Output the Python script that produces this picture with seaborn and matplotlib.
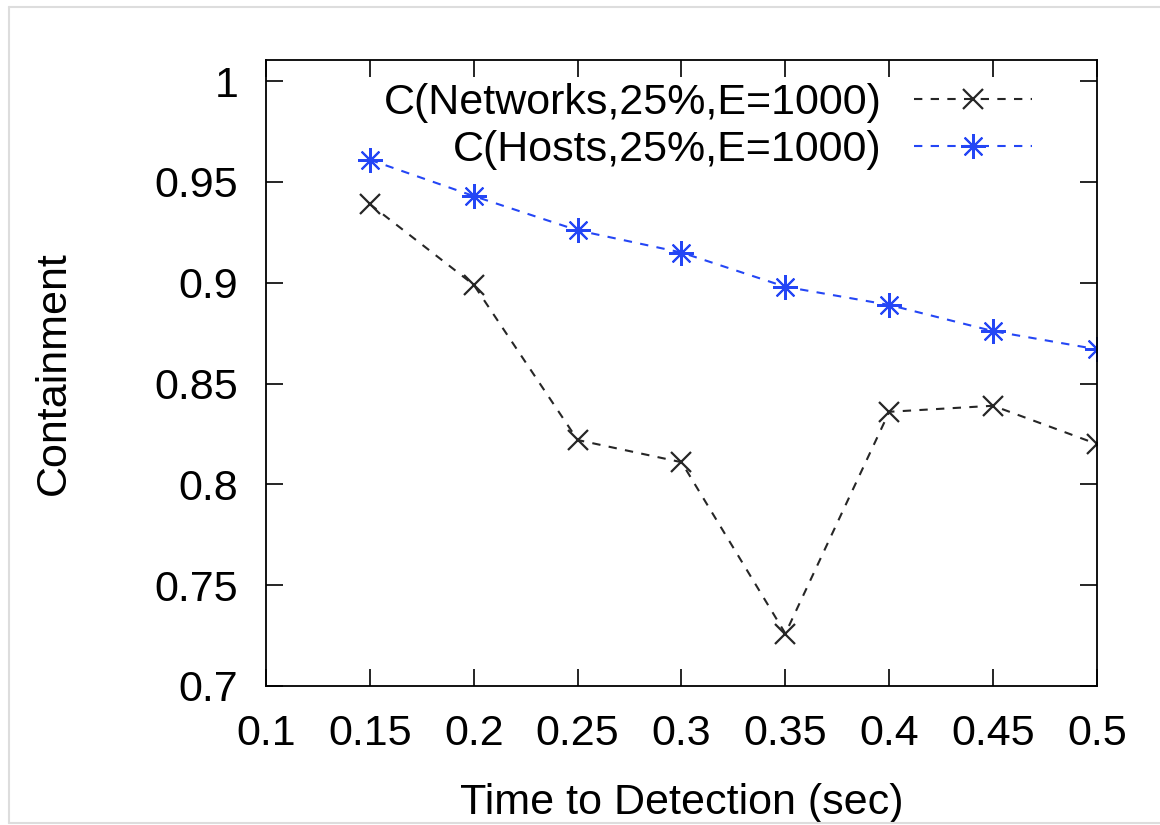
import numpy as np
import pandas as pd
import matplotlib
matplotlib.use("Agg")
import matplotlib.pyplot as plt
from matplotlib.lines import Line2D
import seaborn as sns

# ── data ─────────────────────────────────────────────────────────────────────
detect_time = [0.15, 0.20, 0.25, 0.30, 0.35, 0.40, 0.45, 0.50]
networks    = [0.939, 0.899, 0.822, 0.811, 0.726, 0.836, 0.839, 0.820]
hosts       = [0.961, 0.943, 0.926, 0.915, 0.898, 0.889, 0.876, 0.867]

label_net   = "C(Networks,25%,E=1000)"
label_host  = "C(Hosts,25%,E=1000)"
x_ticks     = [0.1, 0.15, 0.2, 0.25, 0.3, 0.35, 0.4, 0.45, 0.5]
x_ticklabs  = ["0.1", "0.15", "0.2", "0.25", "0.3", "0.35", "0.4", "0.45", "0.5"]
y_ticks     = [0.7, 0.75, 0.8, 0.85, 0.9, 0.95, 1.0]
y_ticklabs  = ["0.7", "0.75", "0.8", "0.85", "0.9", "0.95", "1"]

df = pd.DataFrame({"t": detect_time, "net": networks, "host": hosts})

sns.set_style("white")
plt.rcParams["font.family"] = ["Liberation Sans", "DejaVu Sans"]
plt.rcParams["text.color"] = "black"
plt.rcParams["axes.labelcolor"] = "black"
plt.rcParams["xtick.color"] = "black"
plt.rcParams["ytick.color"] = "black"

FS = 31
BLACK = "#262626"
BLUE = "#2446f5"

fig = plt.figure(figsize=(11.6, 8.25), dpi=100)
ax = fig.add_axes([0.2293, 0.1685, 0.9457 - 0.2293, 0.9273 - 0.1685])

sns.lineplot(data=df, x="t", y="net", ax=ax, color=BLACK, lw=1.5,
             marker="x", markersize=15, mew=1.6, mec=BLACK,
             dashes=False, linestyle=(0, (4, 4)), label=label_net)
sns.lineplot(data=df, x="t", y="host", ax=ax, color=BLUE, lw=1.5,
             marker=(8, 2, 0), markersize=18, mew=1.5, mec=BLUE,
             dashes=False, linestyle=(0, (4, 4)), label=label_host)

ax.set_xlim(0.1, 0.5)
ax.set_ylim(0.7, 1.0105)
ax.set_xticks(x_ticks)
ax.set_xticklabels(x_ticklabs, fontsize=FS)
ax.set_yticks(y_ticks)
ax.set_yticklabels(y_ticklabs, fontsize=FS)
ax.tick_params(direction="in", length=12, width=1.2, top=True, right=True,
               bottom=True, left=True, colors="black")
ax.tick_params(axis="x", pad=20)
ax.tick_params(axis="y", pad=20)
for s in ax.spines.values():
    s.set_visible(True)
    s.set_color("black")
    s.set_linewidth(1.3)

ax.set_xlabel("Time to Detection (sec)", fontsize=FS, labelpad=21)
ax.set_ylabel("Containment", fontsize=FS, labelpad=58)

leg = ax.legend(loc="upper right", bbox_to_anchor=(0.942, 0.99),
                frameon=False, fontsize=FS, markerfirst=False,
                handlelength=2.74, handletextpad=0.74, labelspacing=0.15,
                borderaxespad=0.0)
for t in leg.get_texts():
    t.set_ha("right")
leg._legend_box.align = "right"

# thin grey frame of the original screenshot
fig.add_artist(Line2D([9 / 1160, 9 / 1160], [1 - 823 / 825, 1 - 7 / 825],
                      transform=fig.transFigure, color="#dddddd", lw=1.5))
fig.add_artist(Line2D([9 / 1160, 1.0], [1 - 7 / 825, 1 - 7 / 825],
                      transform=fig.transFigure, color="#dddddd", lw=1.5))
fig.add_artist(Line2D([9 / 1160, 1.0], [1 - 823 / 825, 1 - 823 / 825],
                      transform=fig.transFigure, color="#dddddd", lw=1.5))

fig.savefig("out.png", dpi=100, facecolor="white")
